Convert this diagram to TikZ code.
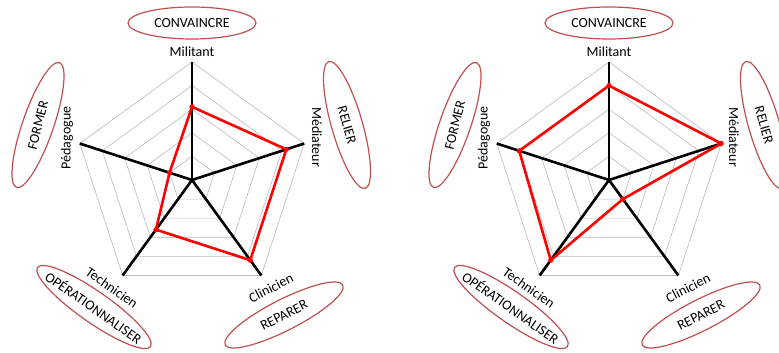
\documentclass[tikz,border=0pt]{standalone}
\usepackage{fontspec}
\setmainfont{Carlito}
\usetikzlibrary{shapes.geometric}
\definecolor{ringred}{RGB}{192,80,77}

\begin{document}
\begin{tikzpicture}[x=1pt,y=1pt,
    every node/.style={font=\fontsize{14}{16}\selectfont,inner sep=0pt},
    web/.style={gray!55,line width=0.6pt},
    spoke/.style={black,line width=2.6pt},
    score/.style={red,line width=2.6pt,line join=round},
    ring/.style={draw=ringred,line width=1.2pt,ellipse,minimum width=132,minimum height=31}]
  \useasboundingbox (0,0) rectangle (779,353);
  \clip (0,0) rectangle (779,353);

  \foreach \side/\cx/\vm/\vd/\vc/\vt/\vp in {L/192/3.1/4.2/4.2/2.6/1.0, R/609/4.0/5.0/1.0/4.2/4.0}{
    \begin{scope}[shift={(\cx,173)}]
      % web
      \foreach \k in {1,...,5}
        \draw[web] (90:{23.6*\k}) -- (18:{23.6*\k}) -- (-54:{23.6*\k})
          -- (-126:{23.6*\k}) -- (162:{23.6*\k}) -- cycle;
      \coordinate (\side o) at (0,0);
      \foreach \a/\n in {90/m,18/d,-54/c,-126/t,162/p}{
        \coordinate (\side\n) at (\a:118);
        \draw[spoke] (\side o) -- (\side\n);
      }

      % scores
      \coordinate (\side sm) at (90:{23.6*\vm});
      \coordinate (\side sd) at (18:{23.6*\vd});
      \coordinate (\side sc) at (-54:{23.6*\vc});
      \coordinate (\side st) at (-126:{23.6*\vt});
      \coordinate (\side sp) at (162:{23.6*\vp});
      \draw[score] (\side sm) -- (\side sd) -- (\side sc) -- (\side st) -- (\side sp) -- cycle;
      \foreach \n in {m,d,c,t,p}
        \fill[red] (\side s\n) circle (2.6);

      % axis labels
      \node (\side lm) at (0,128) {Militant};
      \node[rotate=-90] (\side ld) at (125,43) {Médiateur};
      \node[rotate=90] (\side lp) at (-125,42) {Pédagogue};
      \node[rotate=-35] (\side lt) at (-80,-108) {Technicien};
      \node[rotate=27] (\side lc) at (79,-108) {Clinicien};

      % roles
      \node (\side rm) at (0,157) {CONVAINCRE};
      \node[rotate=-74] (\side rd) at (155,55) {RELIER};
      \node[rotate=76] (\side rp) at (-154,55) {FORMER};
      \node[rotate=-35] (\side rt) at (-98,-127) {OPÉRATIONNALISER};
      \node[rotate=27] (\side rc) at (92,-135) {REPARER};
      \node[ring,minimum width=128,minimum height=32] (\side em) at (\side rm) {};
      \node[ring,rotate=-74] (\side ed) at (\side rd) {};
      \node[ring,rotate=71] (\side ep) at (\side rp) {};
      \node[ring,rotate=-35,minimum width=138] (\side et) at (\side rt) {};
      \node[ring,rotate=27] (\side ec) at (\side rc) {};
    \end{scope}
  }
\end{tikzpicture}
\end{document}
